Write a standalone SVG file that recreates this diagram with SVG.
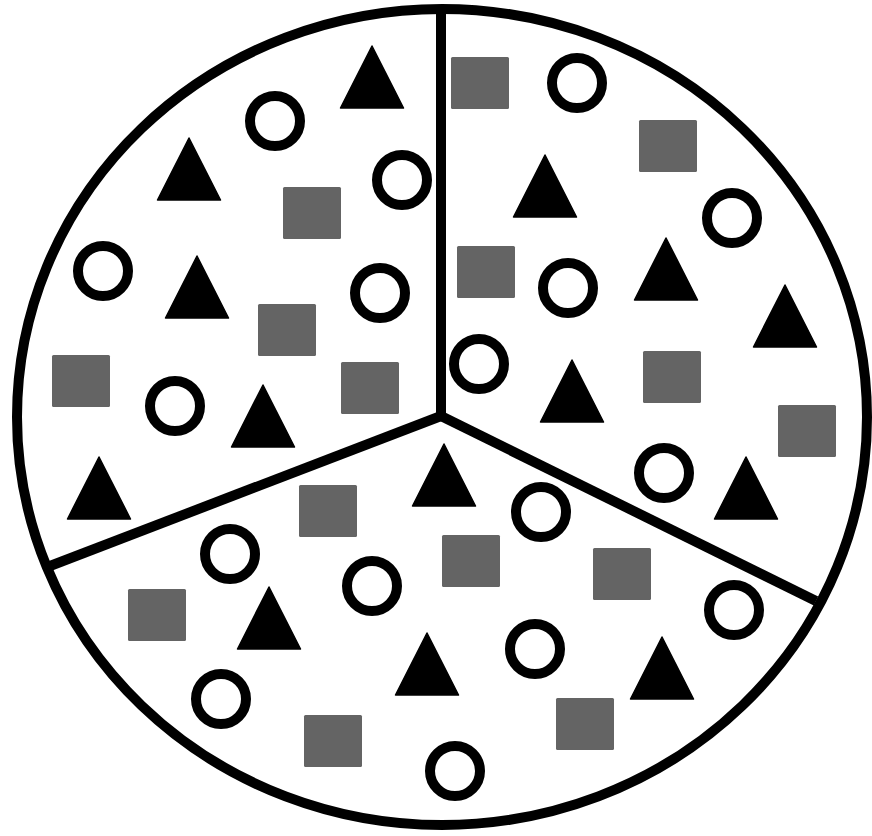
<svg xmlns="http://www.w3.org/2000/svg" xmlns:xlink="http://www.w3.org/1999/xlink" width="872" height="836" viewBox="0 0 872 836">
<style>
.ring{fill:none;stroke:#000;stroke-width:10}
.sq{fill:#646464}
.tri{fill:#000;stroke:#000;stroke-width:1.5;stroke-linejoin:round}
.div{fill:none;stroke:#000;stroke-width:10;stroke-linecap:butt}
</style>
<defs>
<circle id="o" class="ring" cx="0" cy="0" r="25"/>
<rect id="s" class="sq" x="0" y="0" width="58" height="52" rx="1.5"/>
<polygon id="t" class="tri" points="0,1 31.5,63 -31.5,63"/>
</defs>
<rect width="872" height="836" fill="#fff"/>
<g id="pie">
<ellipse cx="442" cy="417" rx="425" ry="408" fill="#fff" stroke="#000" stroke-width="10"/>
</g>
<g id="dividers">
<line class="div" x1="441" y1="9" x2="441" y2="416"/>
<line class="div" x1="441" y1="416" x2="50" y2="566"/>
<line class="div" x1="441" y1="416" x2="816" y2="601"/>
</g>
<g id="sector-left">
<use xlink:href="#t" x="372" y="45"/>
<use xlink:href="#o" x="275" y="121"/>
<use xlink:href="#t" x="189" y="137"/>
<use xlink:href="#o" x="402" y="180"/>
<use xlink:href="#s" x="283" y="187"/>
<use xlink:href="#o" x="103" y="271"/>
<use xlink:href="#t" x="197" y="255"/>
<use xlink:href="#o" x="380" y="293"/>
<use xlink:href="#s" x="258" y="304"/>
<use xlink:href="#s" x="52" y="355"/>
<use xlink:href="#o" x="175" y="406"/>
<use xlink:href="#t" x="263" y="384"/>
<use xlink:href="#s" x="341" y="362"/>
<use xlink:href="#t" x="99" y="456"/>
</g>
<g id="sector-right">
<use xlink:href="#s" x="451" y="57"/>
<use xlink:href="#o" x="577" y="83"/>
<use xlink:href="#s" x="639" y="120"/>
<use xlink:href="#t" x="545" y="154"/>
<use xlink:href="#o" x="732" y="218"/>
<use xlink:href="#s" x="457" y="246"/>
<use xlink:href="#o" x="568" y="288"/>
<use xlink:href="#t" x="666" y="237"/>
<use xlink:href="#t" x="785" y="284"/>
<use xlink:href="#o" x="479" y="364"/>
<use xlink:href="#t" x="572" y="359"/>
<use xlink:href="#s" x="643" y="351"/>
<use xlink:href="#s" x="778" y="405"/>
<use xlink:href="#o" x="664" y="473"/>
<use xlink:href="#t" x="746" y="456"/>
</g>
<g id="sector-bottom">
<use xlink:href="#t" x="444" y="443"/>
<use xlink:href="#s" x="299" y="485"/>
<use xlink:href="#o" x="541" y="512"/>
<use xlink:href="#o" x="230" y="554"/>
<use xlink:href="#s" x="442" y="535"/>
<use xlink:href="#s" x="593" y="548"/>
<use xlink:href="#o" x="372" y="586"/>
<use xlink:href="#s" x="128" y="589"/>
<use xlink:href="#t" x="269" y="586"/>
<use xlink:href="#o" x="734" y="610"/>
<use xlink:href="#o" x="535" y="649"/>
<use xlink:href="#t" x="427" y="632"/>
<use xlink:href="#t" x="662" y="636"/>
<use xlink:href="#o" x="221" y="699"/>
<use xlink:href="#s" x="556" y="698"/>
<use xlink:href="#s" x="304" y="715"/>
<use xlink:href="#o" x="455" y="771"/>
</g>
</svg>
